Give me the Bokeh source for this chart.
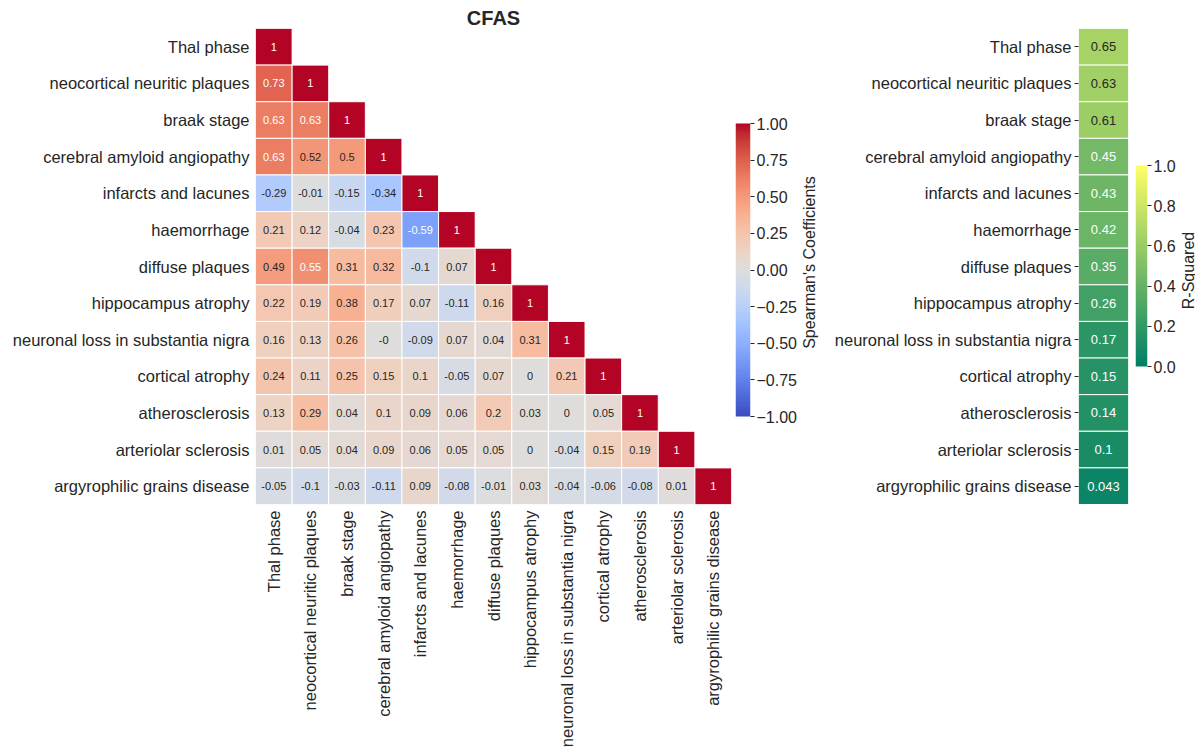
import math
import numpy as np
from bokeh.plotting import figure
from bokeh.models import (ColumnDataSource, LinearColorMapper, FactorRange, Range1d,
                          FixedTicker, CustomJSTickFormatter, NumeralTickFormatter)
from bokeh.layouts import row
from bokeh.core.properties import value
from bokeh.embed import file_html
from bokeh.resources import INLINE

# ---------------- data ----------------
variables = [
    "Thal phase",
    "neocortical neuritic plaques",
    "braak stage",
    "cerebral amyloid angiopathy",
    "infarcts and lacunes",
    "haemorrhage",
    "diffuse plaques",
    "hippocampus atrophy",
    "neuronal loss in substantia nigra",
    "cortical atrophy",
    "atherosclerosis",
    "arteriolar sclerosis",
    "argyrophilic grains disease",
]

# lower triangle (incl. diagonal) of Spearman's coefficients, row by row
corr_rows = [
    [1],
    [0.73, 1],
    [0.63, 0.63, 1],
    [0.63, 0.52, 0.5, 1],
    [-0.29, -0.01, -0.15, -0.34, 1],
    [0.21, 0.12, -0.04, 0.23, -0.59, 1],
    [0.49, 0.55, 0.31, 0.32, -0.1, 0.07, 1],
    [0.22, 0.19, 0.38, 0.17, 0.07, -0.11, 0.16, 1],
    [0.16, 0.13, 0.26, -0.0, -0.09, 0.07, 0.04, 0.31, 1],
    [0.24, 0.11, 0.25, 0.15, 0.1, -0.05, 0.07, 0, 0.21, 1],
    [0.13, 0.29, 0.04, 0.1, 0.09, 0.06, 0.2, 0.03, 0, 0.05, 1],
    [0.01, 0.05, 0.04, 0.09, 0.06, 0.05, 0.05, 0, -0.04, 0.15, 0.19, 1],
    [-0.05, -0.1, -0.03, -0.11, 0.09, -0.08, -0.01, 0.03, -0.04, -0.06, -0.08, 0.01, 1],
]

r2_values = [0.65, 0.63, 0.61, 0.45, 0.43, 0.42, 0.35, 0.26, 0.17, 0.15, 0.14, 0.1, 0.043]

corr_ticks = [-1.0, -0.75, -0.5, -0.25, 0.0, 0.25, 0.5, 0.75, 1.0]
r2_ticks = [0.0, 0.2, 0.4, 0.6, 0.8, 1.0]

title_text = "CFAS"
corr_cbar_title = "Spearman's Coefficients"
r2_cbar_title = "R-Squared"

# ---------------- styling helpers ----------------
FONT = "Liberation Sans"
TXT = "#262626"
LAB_SIZE = "16.5px"

COOLWARM_ANCHORS = [
    (59, 76, 192), (68, 90, 204), (77, 104, 215), (87, 117, 225), (98, 130, 234),
    (108, 142, 241), (119, 154, 247), (130, 165, 251), (141, 176, 254), (152, 185, 255),
    (163, 194, 255), (174, 201, 253), (184, 208, 249), (194, 213, 244), (204, 217, 238),
    (213, 219, 230), (221, 221, 221), (229, 216, 209), (236, 211, 197), (241, 204, 184),
    (245, 196, 172), (247, 187, 159), (247, 177, 147), (247, 166, 134), (244, 154, 123),
    (241, 141, 111), (236, 127, 99), (229, 112, 88), (222, 96, 77), (213, 80, 66),
    (203, 62, 56), (192, 40, 47), (180, 4, 38),
]


def to_hex(rgb):
    return "#%02x%02x%02x" % tuple(int(round(c)) for c in rgb)


def interp_palette(anchors, n=256):
    a = np.array(anchors, dtype=float)
    xs = np.linspace(0, 1, len(a))
    t = np.linspace(0, 1, n)
    return [to_hex([np.interp(tt, xs, a[:, k]) for k in range(3)]) for tt in t]


coolwarm = interp_palette(COOLWARM_ANCHORS)
summer = [to_hex((255 * x, 255 * (0.5 + x / 2), 255 * 0.4)) for x in np.linspace(0, 1, 256)]


def mapped(v, lo, hi, pal):
    n = len(pal)
    i = int(np.floor((v - lo) / (hi - lo) * n))
    return pal[min(max(i, 0), n - 1)]


def text_color(hexcol):
    rgb = np.array([int(hexcol[i:i + 2], 16) for i in (1, 3, 5)]) / 255.0
    rgb = np.where(rgb <= .03928, rgb / 12.92, ((rgb + .055) / 1.055) ** 2.4)
    lum = rgb.dot([.2126, .7152, .0722])
    return TXT if lum > .408 else "#ffffff"


def fmt(v):
    return "{:g}".format(v)


corr_mapper = LinearColorMapper(palette=coolwarm, low=-1, high=1)
r2_mapper = LinearColorMapper(palette=summer, low=0, high=1)

TOP = 28
FRAME_H = 476
BOTTOM = TOP + FRAME_H


def blank(fig):
    fig.outline_line_color = None
    fig.grid.visible = False


# ---------------- correlation heatmap ----------------
xs, ys, vs, labs, tcols = [], [], [], [], []
for i, rvals in enumerate(corr_rows):
    for j, v in enumerate(rvals):
        xs.append(variables[j])
        ys.append(variables[i])
        vs.append(v)
        labs.append(fmt(v))
        tcols.append(text_color(mapped(v, -1, 1, coolwarm)))
src = ColumnDataSource(dict(x=xs, y=ys, v=vs, lab=labs, tc=tcols))

p = figure(x_range=FactorRange(*variables), y_range=FactorRange(*variables[::-1]),
           frame_width=476, frame_height=FRAME_H,
           min_border_left=255, min_border_right=4, min_border_top=TOP, min_border_bottom=240,
           output_backend="svg", toolbar_location=None, tools="")
p.title.text = title_text
p.title.align = "center"
p.title.text_font = FONT
p.title.text_font_size = "20px"
p.title.text_font_style = "bold"
p.title.text_color = TXT
p.title.standoff = 0
p.rect(x="x", y="y", width=1, height=1, source=src,
       fill_color={"field": "v", "transform": corr_mapper},
       line_color="white", line_width=1)
p.text(x="x", y="y", text="lab", source=src, text_color="tc",
       text_align="center", text_baseline="middle",
       text_font=value(FONT), text_font_size="11px")
blank(p)
for ax in (p.xaxis, p.yaxis):
    ax.axis_line_color = None
    ax.major_tick_line_color = None
    ax.major_tick_out = 0
    ax.major_tick_in = 0
    ax.minor_tick_line_color = None
    ax.major_label_text_font = FONT
    ax.major_label_text_font_size = LAB_SIZE
    ax.major_label_text_color = TXT
    ax.major_label_standoff = 6
p.xaxis.major_label_orientation = math.pi / 2

# ---------------- colorbar 1 (bar spans px 123..416 inside frame 28..504) ----------------
cb1_scale = (416 - 123) / 2.0
cb1 = figure(x_range=Range1d(0, 1),
             y_range=Range1d(-1 - (BOTTOM - 416) / cb1_scale, 1 + (123 - TOP) / cb1_scale),
             frame_width=15, frame_height=FRAME_H,
             min_border_left=0, min_border_right=48, min_border_top=TOP, min_border_bottom=0,
             x_axis_location=None, y_axis_location="right",
             output_backend="svg", toolbar_location=None, tools="")
cb1.image(image=[np.linspace(-1, 1, 256).reshape(256, 1)], x=0, y=-1, dw=1, dh=2,
          color_mapper=corr_mapper)
cb1.yaxis.ticker = FixedTicker(ticks=corr_ticks)
cb1.yaxis.formatter = CustomJSTickFormatter(
    code="return (tick < 0 ? '\u2212' : '') + Math.abs(tick).toFixed(2);")

# colorbar 1 title (rotated text in its own narrow strip)
lab1 = figure(x_range=Range1d(0, 1), y_range=Range1d(BOTTOM, TOP),
              frame_width=20, frame_height=FRAME_H,
              min_border_left=0, min_border_right=0, min_border_top=TOP, min_border_bottom=0,
              x_axis_location=None, y_axis_location=None,
              output_backend="svg", toolbar_location=None, tools="")
lab1.text(x=[0.5], y=[262], text=[corr_cbar_title], angle=math.pi / 2,
          text_align="center", text_baseline="middle", text_color=TXT,
          text_font=value(FONT), text_font_size="16px")

# ---------------- R-squared heatmap ----------------
src2 = ColumnDataSource(dict(
    x=[0.5] * len(variables), y=variables, v=r2_values,
    lab=[fmt(v) for v in r2_values],
    tc=[text_color(mapped(v, 0, 1, summer)) for v in r2_values]))
p2 = figure(x_range=Range1d(0, 1), y_range=FactorRange(*variables[::-1]),
            frame_width=50, frame_height=FRAME_H,
            min_border_left=259, min_border_right=7, min_border_top=TOP, min_border_bottom=0,
            x_axis_location=None,
            output_backend="svg", toolbar_location=None, tools="")
p2.rect(x="x", y="y", width=1, height=1, source=src2,
        fill_color={"field": "v", "transform": r2_mapper},
        line_color="white", line_width=1)
p2.text(x="x", y="y", text="lab", source=src2, text_color="tc",
        text_align="center", text_baseline="middle",
        text_font=value(FONT), text_font_size="13px")
blank(p2)
p2.yaxis.axis_line_color = None
p2.yaxis.major_tick_in = 0
p2.yaxis.major_tick_out = 4
p2.yaxis.major_tick_line_color = TXT
p2.yaxis.major_label_standoff = 3
p2.yaxis.major_label_text_font = FONT
p2.yaxis.major_label_text_font_size = LAB_SIZE
p2.yaxis.major_label_text_color = TXT

# ---------------- colorbar 2 (bar spans px 165..366) ----------------
cb2_scale = float(366 - 165)
cb2 = figure(x_range=Range1d(0, 1),
             y_range=Range1d(-(BOTTOM - 366) / cb2_scale, 1 + (165 - TOP) / cb2_scale),
             frame_width=12, frame_height=FRAME_H,
             min_border_left=0, min_border_right=28, min_border_top=TOP, min_border_bottom=0,
             x_axis_location=None, y_axis_location="right",
             output_backend="svg", toolbar_location=None, tools="")
cb2.image(image=[np.linspace(0, 1, 256).reshape(256, 1)], x=0, y=0, dw=1, dh=1,
          color_mapper=r2_mapper)
cb2.yaxis.ticker = FixedTicker(ticks=r2_ticks)
cb2.yaxis.formatter = NumeralTickFormatter(format="0.0")

lab2 = figure(x_range=Range1d(0, 1), y_range=Range1d(BOTTOM, TOP),
              frame_width=20, frame_height=FRAME_H,
              min_border_left=0, min_border_right=0, min_border_top=TOP, min_border_bottom=0,
              x_axis_location=None, y_axis_location=None,
              output_backend="svg", toolbar_location=None, tools="")
lab2.text(x=[0.5], y=[270], text=[r2_cbar_title], angle=math.pi / 2,
          text_align="center", text_baseline="middle", text_color=TXT,
          text_font=value(FONT), text_font_size="16px")

for c in (cb1, cb2, lab1, lab2):
    blank(c)
for c in (cb1, cb2):
    ax = c.yaxis
    ax.axis_line_color = None
    ax.major_tick_in = 0
    ax.major_tick_out = 4
    ax.major_tick_line_color = TXT
    ax.minor_tick_line_color = None
    ax.major_label_standoff = 2
    ax.major_label_text_font = FONT
    ax.major_label_text_font_size = "16px"
    ax.major_label_text_color = TXT

layout = row(p, cb1, lab1, p2, cb2, lab2)
open("out.html", "w").write(file_html(layout, INLINE))
